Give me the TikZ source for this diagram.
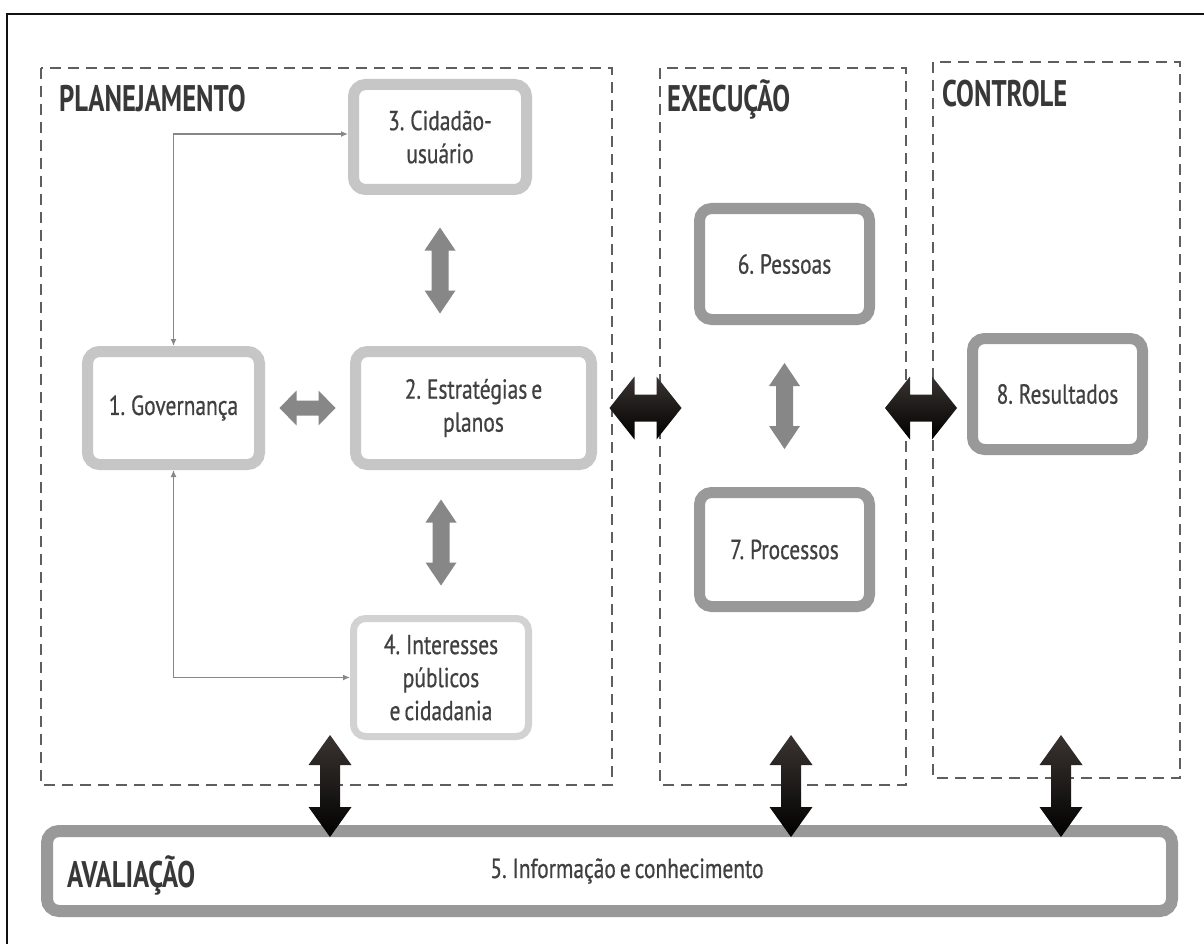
\documentclass[tikz,border=0pt]{standalone}
\usepackage{fontspec}
\newfontfamily\bodyfont[FakeStretch=0.78,FakeBold=0.6,WordSpace=0.7]{PT Sans}
\newfontfamily\headfont[FakeStretch=0.72,WordSpace=0.7]{PT Sans Bold}
\usetikzlibrary{calc,arrows.meta}

\definecolor{frameblack}{HTML}{111111}
\definecolor{dashgray}{HTML}{5E5E5E}
\definecolor{plangray}{HTML}{C6C6C6}
\definecolor{planlight}{HTML}{D2D2D2}
\definecolor{execgray}{HTML}{999999}
\definecolor{arrowgray}{HTML}{878787}
\definecolor{txt}{HTML}{404040}
\definecolor{headtxt}{HTML}{383838}
\definecolor{blacktop}{HTML}{3A3431}

\tikzset{
  % double-headed block arrow: half length, half shaft, half head width, head length
  pics/dblarrow/.style n args={4}{code={
    \path[pic actions] (-#1,0) -- (-#1+#4,-#3) -- (-#1+#4,-#2) -- (#1-#4,-#2)
      -- (#1-#4,-#3) -- (#1,0) -- (#1-#4,#3) -- (#1-#4,#2) -- (-#1+#4,#2)
      -- (-#1+#4,#3) -- cycle;
  }},
}

\begin{document}
\begin{tikzpicture}[x=1pt,y=-1pt,
  box/.style={rectangle, rounded corners=12pt, fill=white, align=center,
    text=txt, inner sep=0pt, font=\bodyfont\fontsize{27.5}{33}\selectfont},
  planbox/.style={box, draw=plangray, line width=11pt, outer sep=5.5pt},
  lightbox/.style={box, draw=planlight, line width=7pt, outer sep=3.5pt},
  execbox/.style={box, draw=execgray, line width=11pt, outer sep=5.5pt},
  barbox/.style={box, draw=execgray, line width=12pt, outer sep=6pt},
  dashbox/.style={draw=dashgray, line width=2.8pt, dash pattern=on 11pt off 7pt},
  head/.style={font=\headfont\fontsize{37}{40}\selectfont, text=headtxt, inner sep=0pt},
  link/.style={draw=arrowgray, line width=1.8pt,
    {Latex[length=7pt,width=6pt]}-{Latex[length=7pt,width=6pt]}},
  grayarrow/.style={fill=arrowgray},
  blackarrow/.style={top color=blacktop, bottom color=black},
]
\useasboundingbox (0,0) rectangle (1204,944);
\fill[white] (0,0) rectangle (1204,944);

% outer frame
\draw[frameblack, line width=2.5pt] (7,950) -- (7,14) -- (1210,14);

% stage regions
\draw[dashbox] (41,68) rectangle (612,785);
\draw[dashbox] (660,68) rectangle (906,785);
\draw[dashbox] (933,62) rectangle (1180,778);

\node[head, anchor=base west] (hplan) at (59,112) {PLANEJAMENTO};
\node[head, anchor=base west] (hexec) at (667,112) {EXECUÇÃO};
\node[head, anchor=base west] (hctrl) at (942,107) {CONTROLE};

% planning
\node[planbox, minimum width=172pt, minimum height=113pt] (n1) at (173.5,408) {1. Governança};
\node[planbox, minimum width=236pt, minimum height=113pt] (n2) at (473.5,408) {2. Estratégias e\\planos};
\node[planbox, minimum width=173pt, minimum height=105pt] (n3) at (440,137) {3. Cidadão-\\usuário};
\node[lightbox, minimum width=175pt, minimum height=118pt] (n4) at (441,677.5) {4. Interesses\\públicos\\e cidadania};

% execution and control
\node[execbox, minimum width=170pt, minimum height=111pt] (n6) at (784.5,264) {6. Pessoas};
\node[execbox, minimum width=170pt, minimum height=114pt] (n7) at (784.5,549.5) {7. Processos};
\node[execbox, minimum width=170pt, minimum height=111pt] (n8) at (1057.5,394) {8. Resultados};

% evaluation bar
\node[barbox, minimum width=1125pt, minimum height=80pt] (n5) at (609.5,871)
  {\hspace*{35pt}5. Informação e conhecimento};
\node[head, anchor=base west] (haval) at (67,887) {AVALIAÇÃO};

% thin links from governance
\draw[link] ([yshift=3pt]n3.west) -| (n1.north);
\draw[link] (n1.south) |- (n4.west);

% gray block arrows
\pic[grayarrow] at ($(n1.east)!0.5!(n2.west)$) {dblarrow={28}{7.5}{17.5}{17}};
\pic[grayarrow, rotate=90] at ($(n3.south)!0.5!(n3.south |- n2.north)$) {dblarrow={43}{8.5}{15.5}{23}};
\pic[grayarrow, rotate=90] at ($(n4.north |- n2.south)!0.5!(n4.north)$) {dblarrow={43}{8.5}{15.5}{23}};
\pic[grayarrow, rotate=90] at ($(n6.south)!0.5!(n7.north)$) {dblarrow={43}{8.5}{15.5}{23}};

% black block arrows between stages
\pic[blackarrow] at ($(n2.east)!0.5!(n2.east -| n6.west)$) {dblarrow={36}{13.5}{31.5}{25}};
\pic[blackarrow] at ($(n6.east |- n2.east)!0.5!(n8.west |- n2.east)$) {dblarrow={36}{13.5}{31.5}{25}};

% black block arrows to the evaluation bar
\pic[blackarrow, rotate=90] at (330,786) {dblarrow={51}{10}{21.5}{30}};
\pic[blackarrow, rotate=90] at (791,786) {dblarrow={51}{10}{21.5}{30}};
\pic[blackarrow, rotate=90] at (1061,786) {dblarrow={51}{10}{21.5}{30}};
\end{tikzpicture}
\end{document}
